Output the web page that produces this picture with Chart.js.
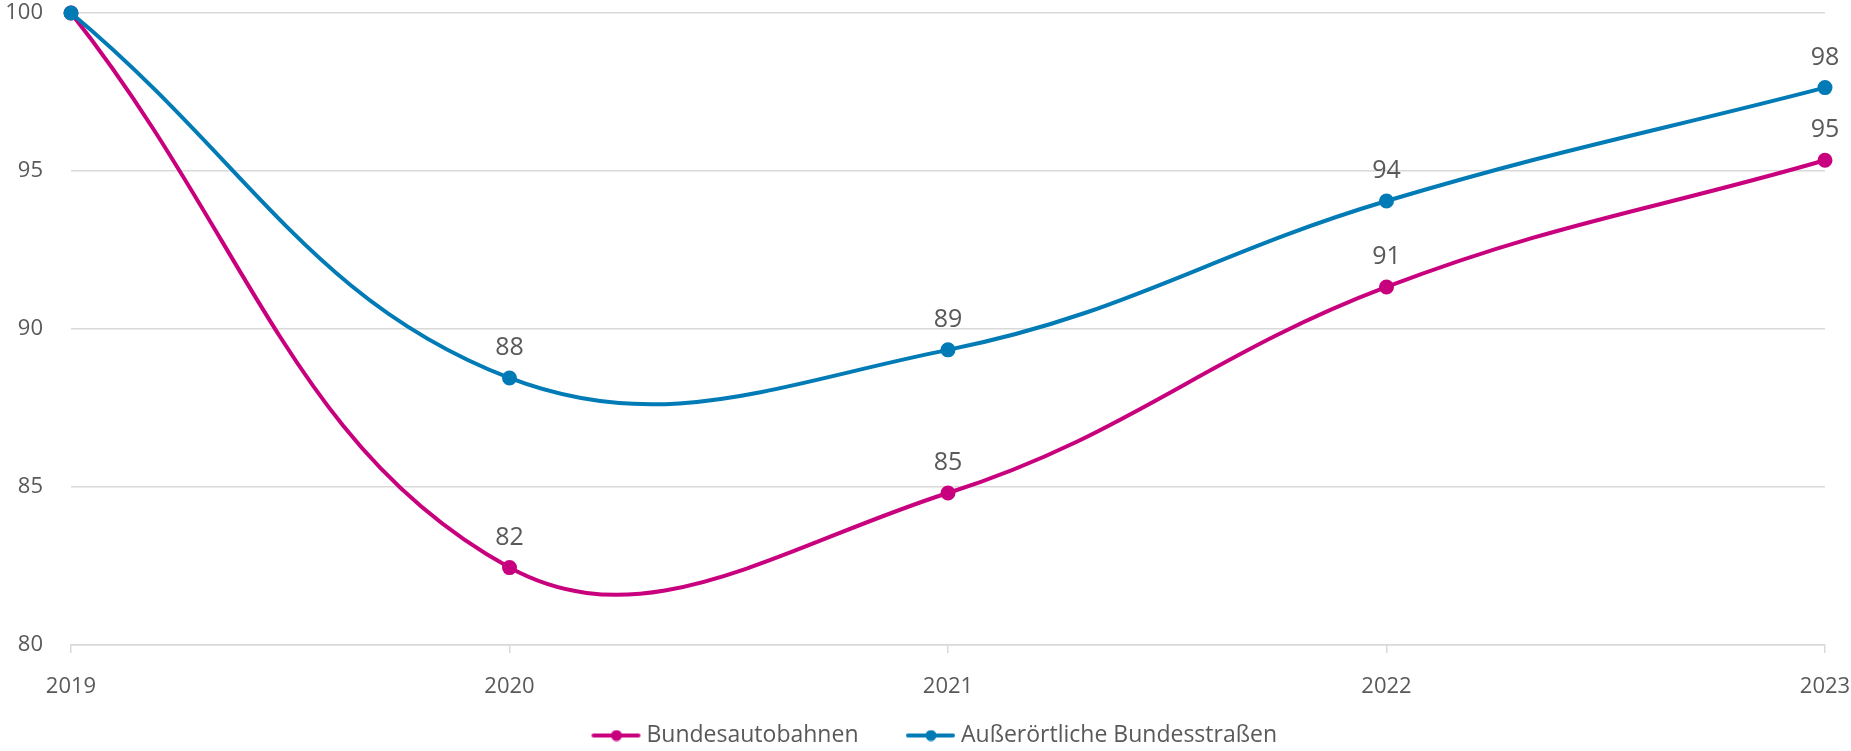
<!DOCTYPE html>
<html>
<head>
<meta charset="utf-8">
<script src="https://cdn.jsdelivr.net/npm/chart.js@4.4.1/dist/chart.umd.min.js"></script>
<style>
  html, body { margin: 0; padding: 0; background: #fff; overflow: hidden; }
  #wrap { width: 1851px; height: 751px; position: relative; }
</style>
</head>
<body>
<div id="wrap"><canvas id="lineChart"></canvas></div>
<script>
const years = ['2019', '2020', '2021', '2022', '2023'];
const autobahnen = [100, 82.45, 84.81, 91.33, 95.34];
const bundesstrassen = [100, 88.45, 89.34, 94.05, 97.64];
const yMin = 80;
const yMax = 100;
const yStep = 5;

const magenta = '#c8007e';
const blue = '#007bb6';
const textColor = '#595959';
const gridColor = '#d9d9d9';
const fontFamily = '"Open Sans", sans-serif';

// legend icon: short line with a dot in the middle,
// transparent space on the left gives the gap between the two entries
function legendIcon(color) {
    const c = document.createElement('canvas');
    c.width = 100;
    c.height = 12;
    const g = c.getContext('2d');
    g.strokeStyle = color;
    g.lineWidth = 4;
    g.lineCap = 'round';
    g.beginPath();
    g.moveTo(52, 6);
    g.lineTo(97, 6);
    g.stroke();
    g.fillStyle = color;
    g.beginPath();
    g.arc(75, 6, 5.5, 0, Math.PI * 2);
    g.fill();
    return c;
}

// value labels above the points (skip the first year)
const valueLabels = {
    id: 'valueLabels',
    afterDatasetsDraw(chart) {
        const ctx = chart.ctx;
        ctx.save();
        ctx.font = '25px ' + fontFamily;
        ctx.fillStyle = textColor;
        ctx.textAlign = 'center';
        ctx.textBaseline = 'middle';
        chart.data.datasets.forEach((ds, i) => {
            const meta = chart.getDatasetMeta(i);
            meta.data.forEach((pt, j) => {
                if (j === 0) return;
                ctx.fillText(Math.round(ds.data[j]), pt.x, pt.y - 30);
            });
        });
        ctx.restore();
    }
};

const ctx = document.getElementById('lineChart').getContext('2d');

new Chart(ctx, {
    type: 'line',
    data: {
        labels: years,
        datasets: [
            {
                label: 'Außerörtliche Bundesstraßen',
                data: bundesstrassen,
                borderColor: blue,
                backgroundColor: blue,
                borderWidth: 4,
                pointRadius: 5.5,
                pointHoverRadius: 5.5,
                tension: 0.4,
                clip: false
            },
            {
                label: 'Bundesautobahnen',
                data: autobahnen,
                borderColor: magenta,
                backgroundColor: magenta,
                borderWidth: 4,
                pointRadius: 5.5,
                pointHoverRadius: 5.5,
                tension: 0.4,
                clip: false
            }
        ]
    },
    options: {
        responsive: true,
        maintainAspectRatio: false,
        animation: false,
        layout: {
            padding: { top: 13, right: 26, bottom: -6, left: 0 }
        },
        plugins: {
            legend: {
                display: true,
                position: 'bottom',
                labels: {
                    color: textColor,
                    font: { family: fontFamily, size: 23 },
                    usePointStyle: true,
                    pointStyleWidth: 87,
                    padding: 4,
                    sort: (a, b) => b.datasetIndex - a.datasetIndex,
                    generateLabels(chart) {
                        const items = Chart.defaults.plugins.legend.labels.generateLabels(chart);
                        items.forEach(it => {
                            it.pointStyle = legendIcon(chart.data.datasets[it.datasetIndex].borderColor);
                        });
                        return items;
                    }
                }
            },
            tooltip: { enabled: false }
        },
        scales: {
            x: {
                offset: false,
                grid: {
                    drawOnChartArea: false,
                    drawTicks: true,
                    tickLength: 8,
                    color: gridColor,
                    lineWidth: 1.5
                },
                border: { display: true, color: gridColor, width: 1.5 },
                ticks: {
                    color: textColor,
                    font: { family: fontFamily, size: 22 },
                    padding: 21,
                    maxRotation: 0,
                    autoSkip: false
                },
                afterFit(scale) {
                    scale.paddingLeft = 0;
                    scale.paddingRight = 0;
                    scale.height = 75;
                }
            },
            y: {
                min: yMin,
                max: yMax,
                grid: {
                    drawTicks: false,
                    color: gridColor,
                    lineWidth: 1.5
                },
                border: { display: false },
                ticks: {
                    stepSize: yStep,
                    color: textColor,
                    font: { family: fontFamily, size: 22 },
                    padding: 28
                },
                afterFit(scale) {
                    scale.width = 71;
                    scale.paddingTop = 0;
                    scale.paddingBottom = 0;
                }
            }
        }
    },
    plugins: [valueLabels]
});
</script>
</body>
</html>
